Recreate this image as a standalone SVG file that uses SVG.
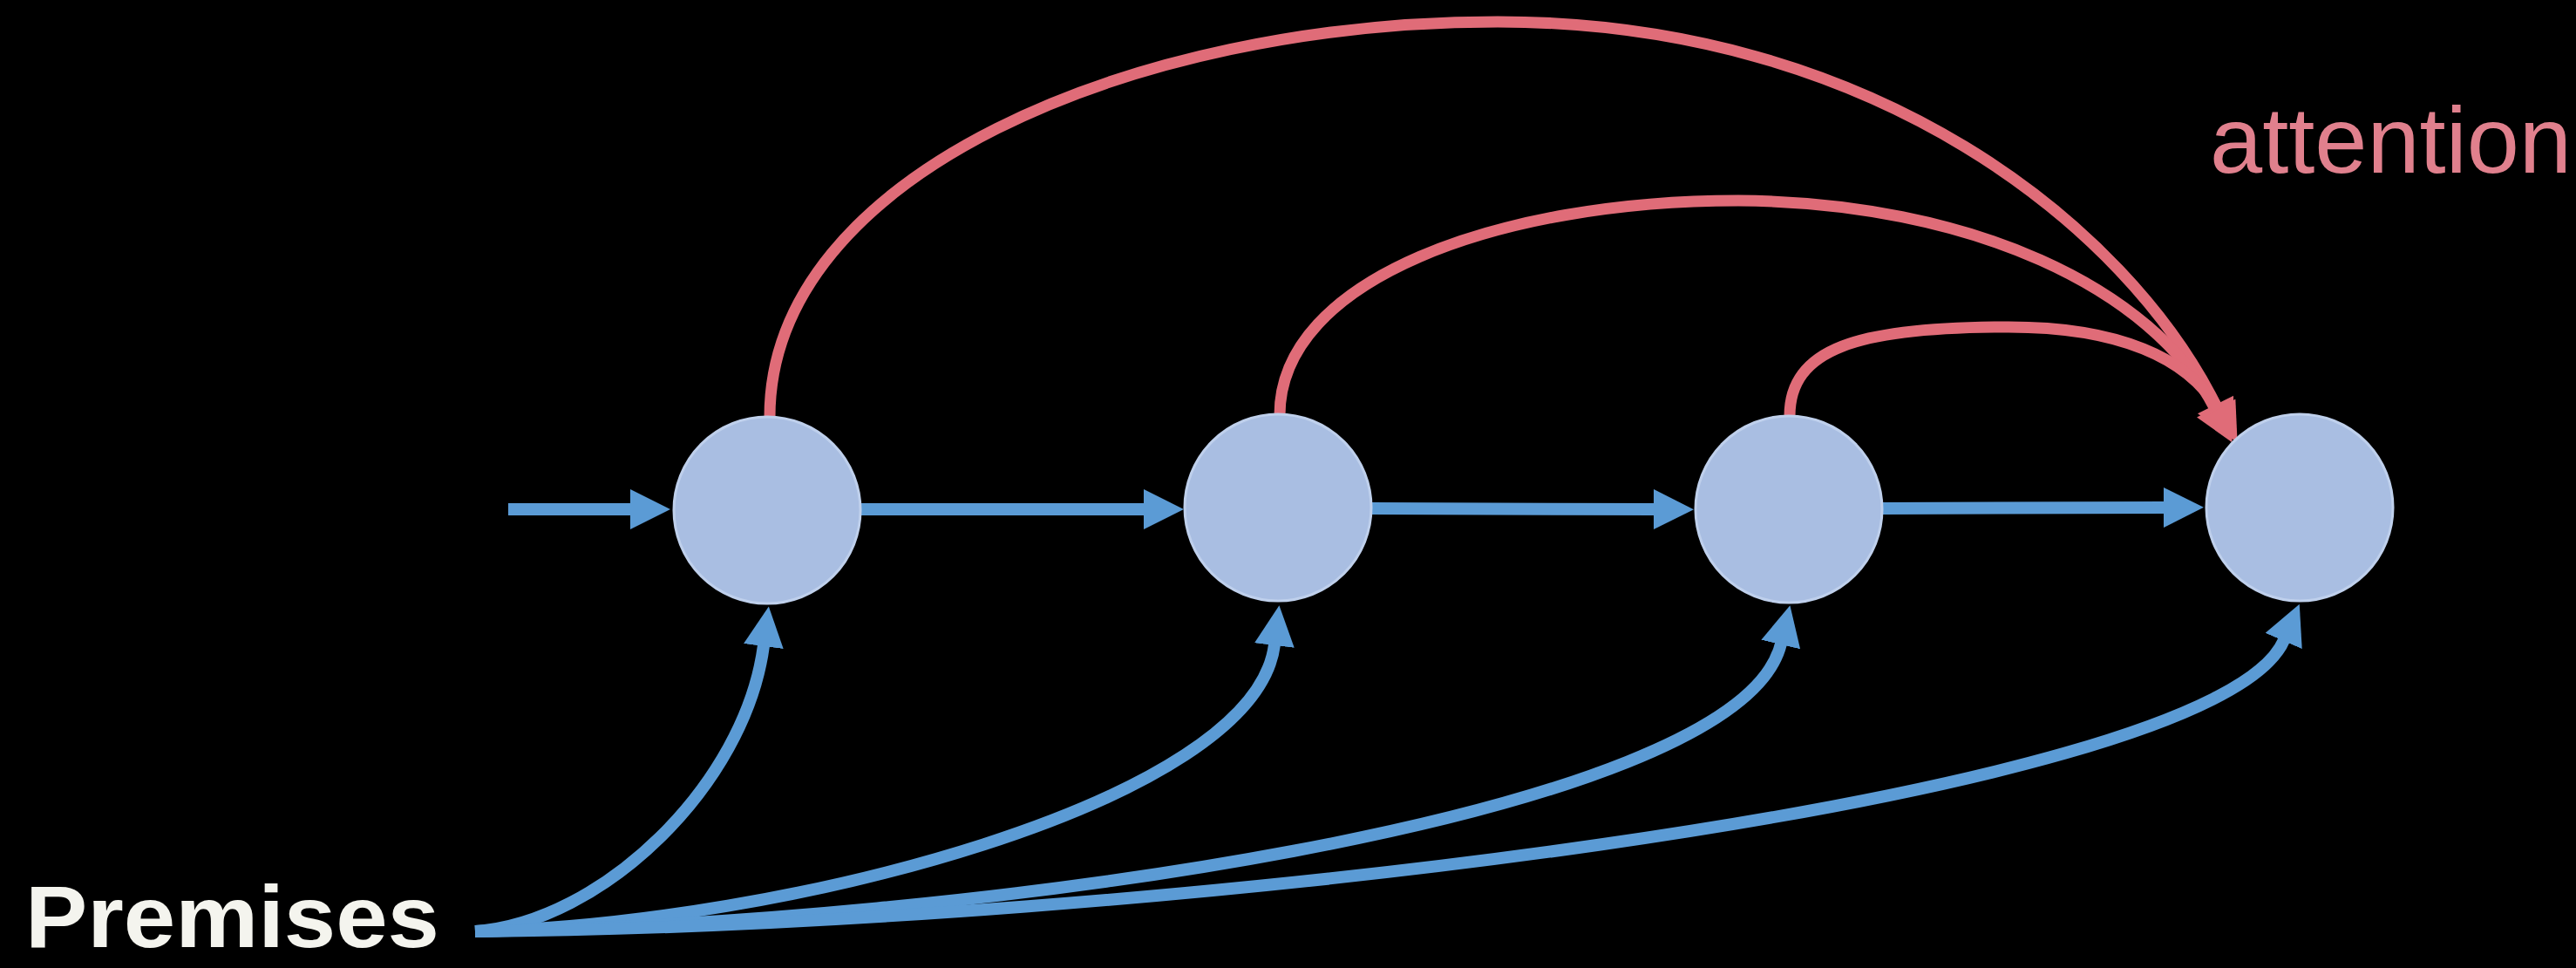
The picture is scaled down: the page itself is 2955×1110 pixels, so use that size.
<svg xmlns="http://www.w3.org/2000/svg" width="2955" height="1110" viewBox="0 0 2955 1110">
<style>
.node{fill:#A9BEE2;stroke:#BFD0EC;stroke-width:3}
.blue{fill:none;stroke:#5B9BD5;stroke-width:14;stroke-linecap:butt}
.red{fill:none;stroke:#E06C78;stroke-width:13;stroke-linecap:butt}
.lbl-prem{font-family:"Liberation Sans",Arial,sans-serif;font-weight:bold;font-size:100px;fill:#F4F4EE}
.lbl-att{font-family:"Liberation Sans",Arial,sans-serif;font-size:108px;fill:#E0808D}
</style>
<defs>
<marker id="ab" markerUnits="userSpaceOnUse" markerWidth="46" markerHeight="46" viewBox="0 0 44 44" refX="1" refY="22" orient="auto">
<path d="M0,0 L44,22 L0,44 z" fill="#5B9BD5"/>
</marker>
<marker id="ar" markerUnits="userSpaceOnUse" markerWidth="46" markerHeight="46" viewBox="0 0 42 44" refX="1" refY="22" orient="auto">
<path d="M0,0 L42,22 L0,44 z" fill="#E06C78"/>
</marker>
</defs>
<rect x="0" y="0" width="2955" height="1110" fill="#000"/>
<g id="connectors">
<path class="blue" d="M583,584 L724,584" marker-end="url(#ab)"/>
<path class="blue" d="M987,584 L1313,584" marker-end="url(#ab)"/>
<path class="blue" d="M1573,583 L1898,584" marker-end="url(#ab)"/>
<path class="blue" d="M2159,583 L2483,582" marker-end="url(#ab)"/>
<path class="blue" d="M545,1068 C690,1058 855,900 876,740" marker-end="url(#ab)"/>
<path class="blue" d="M545,1068 C900,1060 1440,920 1462,739" marker-end="url(#ab)"/>
<path class="blue" d="M545,1068 C1100,1060 1995,940 2043,738" marker-end="url(#ab)"/>
<path class="blue" d="M545,1068 C1300,1062 2540,920 2620,734" marker-end="url(#ab)"/>
<path class="red" d="M883,478 C883,200 1300,25 1718,25 C2150,25 2440,260 2542,465" marker-end="url(#ar)"/>
<path class="red" d="M1468,476 C1468,320 1720,230 1994,230 C2260,232 2470,330 2541,469" marker-end="url(#ar)"/>
<path class="red" d="M2053,477 C2053,400 2130,375 2304,375 C2430,375 2510,410 2545,470" marker-end="url(#ar)"/>
</g>
<g id="node1"><circle class="node" cx="880" cy="585" r="107"/></g>
<g id="node2"><circle class="node" cx="1466" cy="582" r="107"/></g>
<g id="node3"><circle class="node" cx="2052" cy="584" r="107"/></g>
<g id="node4"><circle class="node" cx="2638" cy="582" r="107"/></g>
<g id="label-premises"><text class="lbl-prem" x="29" y="1086" textLength="475" lengthAdjust="spacingAndGlyphs">Premises</text></g>
<g id="label-attention"><text class="lbl-att" x="2535" y="198" textLength="415" lengthAdjust="spacingAndGlyphs">attention</text></g>
</svg>
